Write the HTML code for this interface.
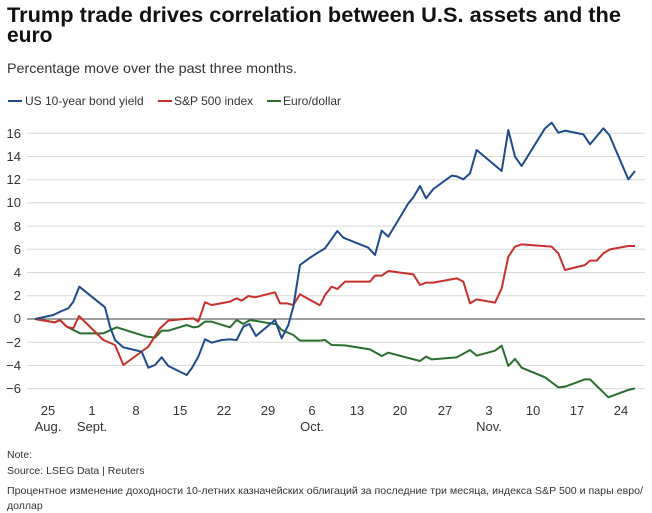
<!DOCTYPE html>
<html><head><meta charset="utf-8"><style>
html,body{margin:0;padding:0;background:#fff;}
svg{display:block;font-family:"Liberation Sans",Arial,sans-serif;}
</style></head><body>
<svg width="652" height="513" viewBox="0 0 652 513">
<text x="7" y="22" font-size="21" font-weight="bold" fill="#111" textLength="614" lengthAdjust="spacingAndGlyphs">Trump trade drives correlation between U.S. assets and the</text>
<text x="7" y="42" font-size="21" font-weight="bold" fill="#111">euro</text>
<text x="7" y="73" font-size="14" fill="#333" textLength="290" lengthAdjust="spacingAndGlyphs">Percentage move over the past three months.</text>
<g font-size="12" fill="#333">
<line x1="8" y1="101" x2="22" y2="101" stroke="#1f4a8c" stroke-width="2"/>
<text x="25" y="105">US 10-year bond yield</text>
<line x1="158" y1="101" x2="172" y2="101" stroke="#c8312b" stroke-width="2"/>
<text x="174" y="105">S&amp;P 500 index</text>
<line x1="267" y1="101" x2="281" y2="101" stroke="#2a6e2e" stroke-width="2"/>
<text x="283" y="105">Euro/dollar</text>
</g>
<g stroke="#d8d8d8" stroke-width="1">
<line x1="27" x2="645" y1="133.3" y2="133.3"/><line x1="27" x2="645" y1="156.5" y2="156.5"/>
<line x1="27" x2="645" y1="179.7" y2="179.7"/><line x1="27" x2="645" y1="202.9" y2="202.9"/>
<line x1="27" x2="645" y1="226.1" y2="226.1"/><line x1="27" x2="645" y1="249.3" y2="249.3"/>
<line x1="27" x2="645" y1="272.5" y2="272.5"/><line x1="27" x2="645" y1="295.7" y2="295.7"/>
<line x1="27" x2="645" y1="342.2" y2="342.2"/><line x1="27" x2="645" y1="365.4" y2="365.4"/>
<line x1="27" x2="645" y1="388.6" y2="388.6"/>
</g>
<line x1="27" x2="645" y1="319" y2="319" stroke="#666" stroke-width="1.2"/>
<g font-size="13" fill="#333" text-anchor="end">
<text x="21" y="138">16</text><text x="21" y="161">14</text><text x="21" y="184">12</text>
<text x="21" y="207">10</text><text x="21" y="231">8</text><text x="21" y="254">6</text>
<text x="21" y="277">4</text><text x="21" y="300">2</text><text x="21" y="323">0</text>
<text x="21" y="347">−2</text><text x="21" y="370">−4</text><text x="21" y="393">−6</text>
</g>
<g font-size="13" fill="#333" text-anchor="middle">
<text x="48" y="415">25</text><text x="48" y="431">Aug.</text>
<text x="92" y="415">1</text><text x="92" y="431">Sept.</text>
<text x="136" y="415">8</text><text x="180" y="415">15</text><text x="224" y="415">22</text>
<text x="268" y="415">29</text><text x="312" y="415">6</text><text x="312" y="431">Oct.</text>
<text x="357" y="415">13</text><text x="400" y="415">20</text><text x="445" y="415">27</text>
<text x="489" y="415">3</text><text x="489" y="431">Nov.</text>
<text x="533" y="415">10</text><text x="577" y="415">17</text><text x="621" y="415">24</text>
</g>
<g fill="none" stroke-width="2" stroke-linejoin="round">
<g transform="translate(0,110) scale(0.33333)">
<polyline vector-effect="non-scaling-stroke" stroke="#2a6e2e" points="105,627 165,637 180,630 200,650 240,670 310,670 350,652 440,680 465,683 485,662 505,662 560,645 580,652 595,650 615,635 635,635 690,652 710,630 730,642 750,630 830,643 845,660 880,675 900,692 960,692"/>
<polyline vector-effect="non-scaling-stroke" stroke="#c8312b" points="105,627 165,637 180,630 200,650 220,655 237,618 310,690 345,705 370,765 445,710 480,655 505,632 540,628 580,625 595,635 615,577 635,585 690,575 710,565 725,572 745,558 765,562 825,547 840,580 860,580 880,585 900,553 960,586"/>
<polyline vector-effect="non-scaling-stroke" stroke="#1f4a8c" points="105,627 160,615 185,603 205,595 220,575 238,530 315,592 330,650 345,690 370,712 425,725 445,773 465,765 485,742 505,768 560,795 575,775 595,740 615,688 635,698 665,690 690,688 710,690 730,650 748,642 768,678 825,630 845,685 865,645 880,590 900,465 930,443 960,424"/>
</g>
<g transform="translate(320,110) scale(0.33333)">
<polyline vector-effect="non-scaling-stroke" stroke="#2a6e2e" points="0,692 15,690 35,705 75,706 150,718 185,738 205,728 300,753 318,740 335,748 410,742 450,720 470,737 525,722 545,707 565,768 585,747 605,773 675,802 715,832 735,830 795,808 810,808 865,862 925,840 945,835"/>
<polyline vector-effect="non-scaling-stroke" stroke="#c8312b" points="0,586 15,555 35,530 52,537 75,515 150,515 165,497 185,497 205,483 280,493 300,525 318,518 340,518 410,505 430,515 450,580 470,568 525,578 545,535 565,440 585,410 605,403 695,410 715,430 735,480 795,465 810,452 830,452 850,430 870,418 925,408 945,408"/>
<polyline vector-effect="non-scaling-stroke" stroke="#1f4a8c" points="0,424 15,415 52,363 70,383 145,413 165,435 185,362 205,380 265,280 280,262 300,228 318,265 340,237 395,197 410,199 430,208 450,190 470,120 545,183 565,60 585,140 605,168 675,55 695,38 715,68 735,62 790,73 810,103 850,55 868,75 925,208 945,183"/>
</g>
</g>
<g font-size="10.5" fill="#333">
<text x="7" y="458">Note:</text>
<text x="7" y="474">Source: LSEG Data | Reuters</text>
<text x="7" y="494" textLength="636" lengthAdjust="spacingAndGlyphs">Процентное изменение доходности 10-летних казначейских облигаций за последние три месяца, индекса S&amp;P 500 и пары евро/</text>
<text x="7" y="509">доллар</text>
</g>
</svg>
</body></html>
